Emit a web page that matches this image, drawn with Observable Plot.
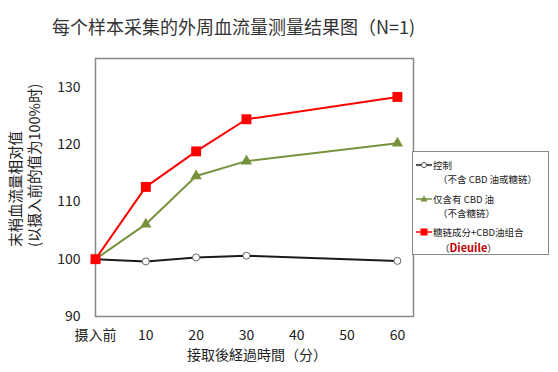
<!DOCTYPE html>
<html><head><meta charset="utf-8">
<script src="https://cdn.jsdelivr.net/npm/d3@7"></script>
<script src="https://cdn.jsdelivr.net/npm/@observablehq/plot@0.6"></script>
<style>
body{margin:0;background:#fff;}
#wrap{position:relative;width:558px;height:372px;font-family:"Noto Sans CJK SC","Noto Sans",sans-serif;color:#222;overflow:hidden;}
#wrap > svg{position:absolute;left:0;top:0;}
#title{position:absolute;left:52px;top:15px;font-size:18px;line-height:22px;color:#333;white-space:nowrap;}
#ylab{position:absolute;left:5px;top:247px;transform-origin:0 0;transform:rotate(-90deg);font-size:14.5px;line-height:19px;white-space:pre;color:#222;}
#xlab{position:absolute;left:257px;top:347px;transform:translateX(-50%);font-size:14px;line-height:14px;height:14px;white-space:nowrap;color:#222;}
#legend{position:absolute;left:412px;top:151px;width:135px;height:102px;border:1.5px solid #888;background:#fff;font-size:9.5px;color:#222;}
#legend .row{position:absolute;white-space:nowrap;line-height:11px;height:11px;transform:translateY(-50%);}
#legend svg{vertical-align:top;margin-right:1px;}
.dieuile{font-size:11px;font-weight:bold;color:#c00000;}
</style></head><body>
<div id="wrap"></div>
<script>
// ---- data ----
const times = [0, 10, 20, 30, 60];
const controlValues = [100, 99.6, 100.3, 100.6, 99.7];
const cbdValues = [100, 106.1, 114.5, 117.1, 120.2];
const comboValues = [100, 112.6, 118.8, 124.4, 128.3];
const xTicks = [0, 10, 20, 30, 40, 50, 60];
const xTickLabels = ["摄入前", "10", "20", "30", "40", "50", "60"];
const yTicks = [90, 100, 110, 120, 130];
const titleText = "每个样本采集的外周血流量测量结果图（N=1)";
const yLabelLines = ["末梢血流量相对值", "(以摄入前的值为100%时)"];
const xLabelText = "接取後経過時間（分）";
const legendLines = [
  ["控制", "（不含 CBD 油或糖链）"],
  ["仅含有 CBD 油", "（不含糖链）"],
  ["糖链成分+CBD油组合", "Dieuile"]
];

const toRows = vals => times.map((t, i) => ({t, v: vals[i]}));
const control = toRows(controlValues);
const cbd = toRows(cbdValues);
const combo = toRows(comboValues);

const RED = "#ff0000", GREEN = "#76923c", BLACK = "#1a1a1a";

const chart = Plot.plot({
  width: 558, height: 372,
  marginTop: 58, marginBottom: 56, marginLeft: 95, marginRight: 145,
  x: {domain: [0, 63.2], ticks: xTicks, tickFormat: d => xTickLabels[xTicks.indexOf(d)], tickSize: 0, tickPadding: 14, label: null},
  y: {domain: [90, 135], ticks: yTicks, tickSize: 0, tickPadding: 15, label: null},
  style: {fontFamily: '"Noto Sans CJK SC","Noto Sans",sans-serif', fontSize: "14px", color: "#222", background: "transparent", overflow: "visible"},
  marks: [
    Plot.frame({stroke: "#888", strokeWidth: 1.5}),
    Plot.line(control, {x: "t", y: "v", stroke: BLACK, strokeWidth: 2}),
    Plot.dot(control, {x: "t", y: "v", r: 3.5, fill: "white", stroke: "#666", strokeWidth: 1}),
    Plot.line(cbd, {x: "t", y: "v", stroke: GREEN, strokeWidth: 2}),
    Plot.dot(cbd, {x: "t", y: "v", symbol: "triangle", r: 4.2, fill: GREEN, stroke: "none"}),
    Plot.line(combo, {x: "t", y: "v", stroke: RED, strokeWidth: 2}),
    Plot.dot(combo, {x: "t", y: "v", symbol: "square", r: 5.6, fill: RED, stroke: "none"})
  ]
});

const wrap = document.getElementById("wrap");
wrap.appendChild(chart);

const title = document.createElement("div");
title.id = "title"; title.textContent = titleText; wrap.appendChild(title);

const ylab = document.createElement("div");
ylab.id = "ylab"; ylab.textContent = yLabelLines.join("\n"); wrap.appendChild(ylab);

const xlab = document.createElement("div");
xlab.id = "xlab"; xlab.textContent = xLabelText; wrap.appendChild(xlab);

// legend
const legend = document.createElement("div");
legend.id = "legend";
const swatch = (color, shape) => {
  let m = "";
  if (shape === "circle") m = `<circle cx="8" cy="5.5" r="2.6" fill="white" stroke="#555" stroke-width="1"/>`;
  if (shape === "triangle") m = `<path d="M8,2 L11.5,8 L4.5,8 Z" fill="${color}"/>`;
  if (shape === "square") m = `<rect x="4.5" y="2" width="7" height="7" fill="${color}"/>`;
  return `<svg width="16" height="11" viewBox="0 0 16 11"><line x1="0" y1="5.5" x2="16" y2="5.5" stroke="${color}" stroke-width="1.6"/>${m}</svg>`;
};
const rowDefs = [
  {top: 13, left: 3, html: swatch(BLACK, "circle") + legendLines[0][0]},
  {top: 27, left: 25, html: legendLines[0][1]},
  {top: 47, left: 3, html: swatch(GREEN, "triangle") + legendLines[1][0]},
  {top: 61, left: 25, html: legendLines[1][1]},
  {top: 79.5, left: 3, html: swatch(RED, "square") + legendLines[2][0]},
  {top: 95, left: 27, html: `<span>（</span><span class="dieuile">${legendLines[2][1]}</span><span>）</span>`}
];
for (const r of rowDefs) {
  const d = document.createElement("div");
  d.className = "row";
  d.style.top = r.top + "px";
  d.style.left = r.left + "px";
  d.innerHTML = r.html;
  legend.appendChild(d);
}
wrap.appendChild(legend);
</script>
</body></html>
